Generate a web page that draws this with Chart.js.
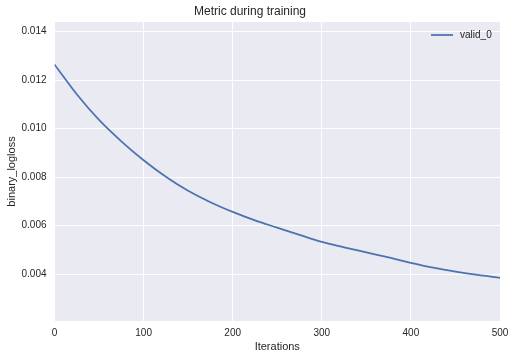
<!DOCTYPE html>
<html>
<head>
<meta charset="utf-8">
<script src="https://cdn.jsdelivr.net/npm/chart.js@4/dist/chart.umd.min.js"></script>
<style>
  html, body { margin: 0; padding: 0; background: #fff; }
  #wrap { width: 515px; height: 359px; position: relative; }
</style>
</head>
<body>
<div id="wrap"><canvas id="chart"></canvas></div>
<script>
  // values
  const iterations = [0, 25, 50, 75, 100, 125, 150, 175, 200, 225, 250, 275, 300, 325, 350, 375, 400, 425, 450, 475, 500];
  const validLoss = [0.01265, 0.01142, 0.01036, 0.00948, 0.00870, 0.00802, 0.00744, 0.00697, 0.00657, 0.00622, 0.00592, 0.00562, 0.00533, 0.00511, 0.00490, 0.00469, 0.00447, 0.00427, 0.00411, 0.00397, 0.00385];
  const seriesName = 'valid_0';
  const yTicks = [0.004, 0.006, 0.008, 0.010, 0.012, 0.014];
  const xTicks = [0, 100, 200, 300, 400, 500];

  const FONT = 'Liberation Sans, Arial, sans-serif';
  const TXT = '#262626';
  const LINE = '#4C72B0';

  const plotBg = {
    id: 'plotBg',
    beforeDraw(chart) {
      const { ctx, chartArea: a } = chart;
      ctx.save();
      ctx.fillStyle = '#EAEAF2';
      ctx.fillRect(a.left, a.top, a.right - a.left, a.bottom - a.top);
      ctx.restore();
    }
  };

  // legend drawn inside the plot, top right
  const innerLegend = {
    id: 'innerLegend',
    afterDraw(chart) {
      const { ctx, chartArea: a } = chart;
      const y = a.top + 13;
      const x0 = a.right - 69;
      ctx.save();
      ctx.strokeStyle = LINE;
      ctx.lineWidth = 1.75;
      ctx.beginPath();
      ctx.moveTo(x0, y);
      ctx.lineTo(x0 + 22, y);
      ctx.stroke();
      ctx.fillStyle = TXT;
      ctx.font = '10px ' + FONT;
      ctx.textBaseline = 'middle';
      ctx.fillText(seriesName, x0 + 29, y);
      ctx.restore();
    }
  };

  new Chart(document.getElementById('chart'), {
    type: 'line',
    data: {
      datasets: [{
        label: seriesName,
        data: iterations.map((it, i) => ({ x: it, y: validLoss[i] })),
        borderColor: LINE,
        borderWidth: 1.75,
        pointRadius: 0,
        cubicInterpolationMode: 'monotone',
        fill: false
      }]
    },
    options: {
      responsive: true,
      maintainAspectRatio: false,
      animation: false,
      layout: { padding: { left: 0, right: 15, top: 0, bottom: 0 } },
      plugins: {
        legend: { display: false },
        tooltip: { enabled: false },
        title: {
          display: true,
          text: 'Metric during training',
          color: TXT,
          font: { family: FONT, size: 12, weight: 'normal' },
          padding: { top: 4, bottom: 3.6 }
        }
      },
      scales: {
        x: {
          type: 'linear',
          min: 0,
          max: 500,
          afterBuildTicks(scale) { scale.ticks = xTicks.map(v => ({ value: v })); },
          afterFit(scale) { scale.height = 38; },
          grid: { color: '#ffffff', lineWidth: 1, drawTicks: false },
          border: { display: false },
          ticks: { color: TXT, font: { family: FONT, size: 10 }, padding: 6, maxRotation: 0 },
          title: {
            display: true,
            text: 'Iterations',
            color: TXT,
            font: { family: FONT, size: 11 },
            padding: { top: 0, bottom: 5 }
          }
        },
        y: {
          min: 0.00207,
          max: 0.0144,
          afterBuildTicks(scale) { scale.ticks = yTicks.map(v => ({ value: v })); },
          afterFit(scale) { scale.width = 54.5; },
          grid: { color: '#ffffff', lineWidth: 1, drawTicks: false },
          border: { display: false },
          ticks: {
            color: TXT,
            font: { family: FONT, size: 10 },
            padding: 8,
            callback: v => v.toFixed(3)
          },
          title: {
            display: true,
            text: 'binary_logloss',
            color: TXT,
            font: { family: FONT, size: 11 },
            padding: { top: 5, bottom: 0 }
          }
        }
      }
    },
    plugins: [plotBg, innerLegend]
  });
</script>
</body>
</html>
